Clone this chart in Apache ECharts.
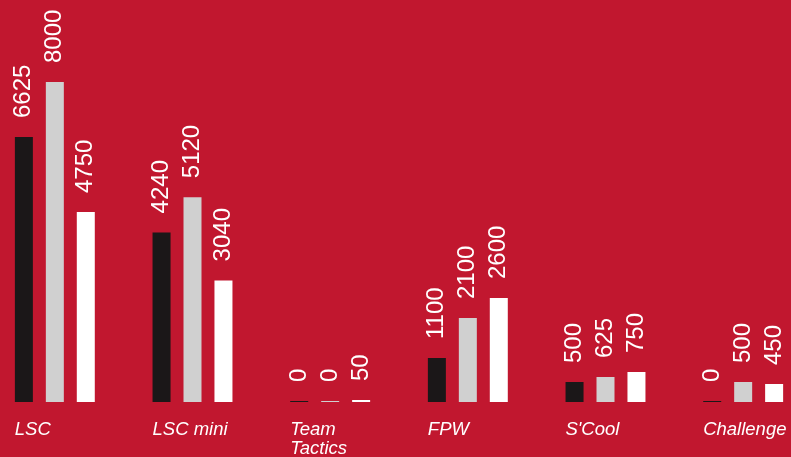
<!DOCTYPE html>
<html>
<head>
<meta charset="utf-8">
<script src="https://cdn.jsdelivr.net/npm/echarts@6/dist/echarts.min.js"></script>
<style>
html,body{margin:0;padding:0;background:#C1172F;}
#chart{width:791px;height:457px;}
</style>
</head>
<body>
<div id="chart"></div>
<script>
const categories = ['LSC', 'LSC mini', 'Team\nTactics', 'FPW', "S'Cool", 'Challenge'];
const seriesBlack = [6625, 4240, 0, 1100, 500, 0];
const seriesGray = [8000, 5120, 0, 2100, 625, 500];
const seriesWhite = [4750, 3040, 50, 2600, 750, 450];

const chart = echarts.init(document.getElementById('chart'));
const labelStyle = {
  show: true,
  position: 'top',
  rotate: 90,
  align: 'left',
  verticalAlign: 'middle',
  distance: 19,
  color: '#ffffff',
  fontSize: 24,
  fontFamily: 'Liberation Sans, Arial, sans-serif'
};
function mk(data, color) {
  return {
    type: 'bar',
    data: data,
    barWidth: 18,
    barGap: '72%',
    barMinHeight: 1,
    itemStyle: { color: color },
    label: labelStyle,
    silent: true
  };
}
chart.setOption({
  backgroundColor: '#C1172F',
  animation: false,
  grid: { left: -14, right: -21, top: 82, bottom: 55, containLabel: false, outerBoundsMode: 'none' },
  xAxis: {
    type: 'category',
    data: categories,
    axisLine: { show: false },
    axisTick: { show: false },
    axisLabel: {
      margin: 18,
      interval: 0,
      align: 'center',
      verticalAlign: 'top',
      formatter: function (v) { return '{a|' + v.split('\n').join('}\n{a|') + '}'; },
      rich: {
        a: {
          width: 80,
          align: 'left',
          color: '#ffffff',
          fontSize: 18.5,
          fontStyle: 'italic',
          fontFamily: 'Liberation Sans, Arial, sans-serif',
          lineHeight: 19
        }
      }
    }
  },
  yAxis: {
    type: 'value',
    min: 0,
    max: 8000,
    show: false,
    splitLine: { show: false }
  },
  series: [
    mk(seriesBlack, '#1B1718'),
    mk(seriesGray, '#D0D0D0'),
    mk(seriesWhite, '#FFFFFF')
  ]
});
</script>
</body>
</html>
